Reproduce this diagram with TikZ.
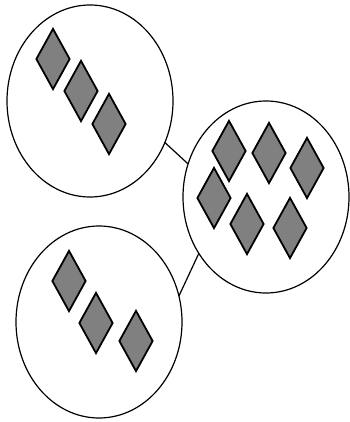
\documentclass[tikz,border=0pt]{standalone}
\usepackage{tikz}
\usetikzlibrary{arrows,shapes,positioning}

\begin{document}
\begin{tikzpicture}[x=1pt, y=-1pt,
                    group/.style={draw, ellipse, line width=1.2pt, minimum width=166pt, minimum height=192pt, inner sep=0pt, outer sep=0pt},
                    gem/.style={draw, diamond, line width=1.8pt, fill=black!50, minimum width=34pt, minimum height=61pt, inner sep=0pt}]
  \useasboundingbox (0,0) rectangle (349,422);

  % Define nodes
  \node[group] (topgrp) at (90,101) {};
  \node[group] (rightgrp) at (266,197) {};
  \node[group] (botgrp) at (99,322) {};

  \node[gem] (t1) at (53,59) {};
  \node[gem] (t2) at (81,91) {};
  \node[gem] (t3) at (109,124) {};

  \node[gem] (r1) at (229,151) {};
  \node[gem] (r2) at (269,153) {};
  \node[gem] (r3) at (307,168) {};
  \node[gem] (r4) at (214,198) {};
  \node[gem] (r5) at (247,224) {};
  \node[gem] (r6) at (290,228) {};

  \node[gem] (b1) at (69,281) {};
  \node[gem] (b2) at (96,323) {};
  \node[gem] (b3) at (136,341) {};

  % Define paths
  \draw[line width=1.2pt] (topgrp.-29) -- (rightgrp.157.5);
  \draw[line width=1.2pt] (botgrp.18) -- (rightgrp.220);

\end{tikzpicture}
\end{document}
